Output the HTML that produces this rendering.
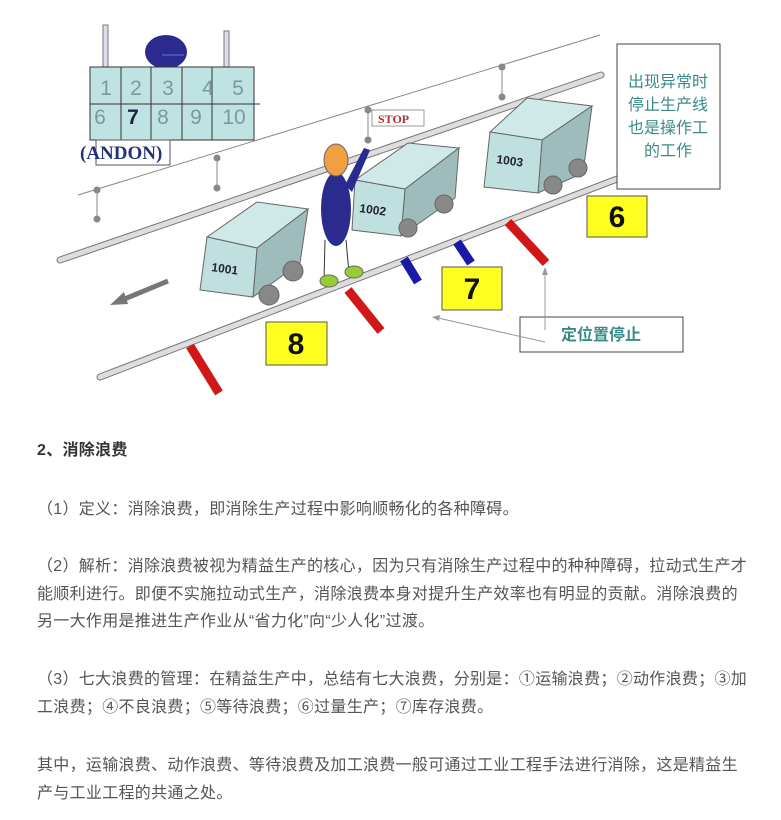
<!DOCTYPE html>
<html><head><meta charset="utf-8"><style>
html,body{margin:0;padding:0;background:#fff;width:781px;height:820px;overflow:hidden}
svg{position:absolute;left:0;top:0}
.t{position:absolute;left:37px;font-family:"Liberation Sans","Noto Sans CJK SC",sans-serif;font-size:16px;color:#555;letter-spacing:0.3px;white-space:nowrap;line-height:27.5px}
</style></head><body>
<svg width="781" height="410" viewBox="0 0 781 410" font-family="Liberation Sans, Noto Sans CJK SC, sans-serif">
<rect x="103" y="25" width="5" height="43" fill="#dde" stroke="#777"/>
<rect x="224" y="31" width="5" height="37" fill="#dde" stroke="#777"/>
<ellipse cx="166" cy="52" rx="21" ry="17" fill="#2a2a8f"/>
<line x1="162" y1="55" x2="184" y2="55" stroke="#6677cc"/>
<rect x="90" y="67" width="164" height="73" fill="#bfe3e3" stroke="#333"/>
<line x1="90" y1="104" x2="260" y2="104" stroke="#333"/>
<g stroke="#333"><line x1="121" y1="67" x2="121" y2="140"/><line x1="151" y1="67" x2="151" y2="140"/><line x1="182" y1="67" x2="182" y2="140"/><line x1="212" y1="67" x2="212" y2="140"/></g>
<g font-size="21" fill="#7a9a9a" text-anchor="middle">
<text x="106" y="95">1</text><text x="136" y="95">2</text><text x="168" y="95">3</text><text x="208" y="95">4</text><text x="238" y="95">5</text>
<text x="100" y="124">6</text><text x="133" y="124" fill="#224" font-weight="bold">7</text><text x="163" y="124">8</text><text x="196" y="124">9</text><text x="234" y="124">10</text></g>
<rect x="96" y="140" width="74" height="25" fill="none" stroke="#555"/>
<text x="80" y="159" font-family="Liberation Serif, serif" font-weight="bold" font-size="19" fill="#223377">(ANDON)</text>
<line x1="78" y1="195" x2="600" y2="35" stroke="#888" stroke-width="1"/>
<g stroke="#888" fill="#888">
<line x1="97" y1="190" x2="97" y2="219"/><circle cx="97" cy="190" r="3"/><circle cx="97" cy="219" r="3"/>
<line x1="217" y1="158" x2="217" y2="188"/><circle cx="217" cy="158" r="3"/><circle cx="217" cy="188" r="3"/>
<line x1="368" y1="110" x2="368" y2="140"/><circle cx="368" cy="110" r="3"/><circle cx="368" cy="140" r="3"/>
<line x1="502" y1="67" x2="502" y2="97"/><circle cx="502" cy="67" r="3"/><circle cx="502" cy="97" r="3"/></g>
<line x1="60" y1="260" x2="601" y2="75" stroke="#777" stroke-width="7" stroke-linecap="round"/>
<line x1="60" y1="260" x2="601" y2="75" stroke="#ddd" stroke-width="5" stroke-linecap="round"/>
<line x1="100" y1="377" x2="651" y2="166" stroke="#777" stroke-width="7" stroke-linecap="round"/>
<line x1="100" y1="377" x2="651" y2="166" stroke="#ddd" stroke-width="5" stroke-linecap="round"/>
<g stroke-width="9">
<line x1="190" y1="346" x2="219" y2="393" stroke="#d01818"/>
<line x1="348" y1="290" x2="381" y2="331" stroke="#d01818"/>
<line x1="404" y1="259" x2="418" y2="282" stroke="#1a1aa8"/>
<line x1="457" y1="242" x2="471" y2="263" stroke="#1a1aa8"/>
<line x1="508" y1="222" x2="546" y2="263" stroke="#d01818"/></g>
<g stroke="#666" stroke-width="1">
<polygon points="207,237 257,202 308,209 257,248" fill="#cfe8e8"/>
<polygon points="257,248 308,209 300,263 253,297" fill="#9fbcbc"/>
<polygon points="207,237 257,248 253,297 200,290" fill="#c0e0e0"/>
<circle cx="293" cy="271" r="10" fill="#888"/><circle cx="269" cy="295" r="10" fill="#888"/>
<polygon points="355,180 408,143 459,148 405,189" fill="#cfe8e8"/>
<polygon points="405,189 459,148 455,198 401,236" fill="#9fbcbc"/>
<polygon points="355,180 405,189 401,236 352,230" fill="#c0e0e0"/>
<circle cx="444" cy="204" r="9" fill="#888"/><circle cx="408" cy="228" r="9" fill="#888"/>
<polygon points="490,132 527,98 592,106 542,140" fill="#cfe8e8"/>
<polygon points="542,140 592,106 583,173 538,193" fill="#9fbcbc"/>
<polygon points="490,132 542,140 538,193 484,187" fill="#c0e0e0"/>
<circle cx="578" cy="168" r="9" fill="#888"/><circle cx="553" cy="185" r="9" fill="#888"/></g>
<g font-size="12" fill="#223" font-weight="bold">
<text x="211" y="271" transform="rotate(8 211 271)">1001</text>
<text x="359" y="212" transform="rotate(8 359 212)">1002</text>
<text x="496" y="163" transform="rotate(8 496 163)">1003</text></g>
<line x1="325" y1="240" x2="324" y2="280" stroke="#333"/><line x1="346" y1="240" x2="349" y2="273" stroke="#333"/>
<path d="M345 185 L364 148 L370 150 L352 192 Z" fill="#2a2a8f"/>
<ellipse cx="336" cy="209" rx="15" ry="37" fill="#2a2a8f"/>
<ellipse cx="336" cy="160" rx="12" ry="16" fill="#f0a040" stroke="#666"/>
<ellipse cx="329" cy="281" rx="9" ry="6" fill="#9c3" stroke="#666"/>
<ellipse cx="354" cy="272" rx="9" ry="6" fill="#9c3" stroke="#666"/>
<rect x="372" y="110" width="52" height="16" fill="#fff" stroke="#999"/>
<text x="378" y="123" font-family="Liberation Serif, serif" font-weight="bold" font-size="12" fill="#b03030">STOP</text>
<g fill="#ffff20" stroke="#555">
<rect x="266" y="322" width="61" height="43"/><rect x="442" y="267" width="60" height="43"/><rect x="587" y="196" width="60" height="41"/></g>
<g font-size="30" fill="#111" text-anchor="middle" font-weight="bold">
<text x="296" y="354">8</text><text x="472" y="299">7</text><text x="617" y="227">6</text></g>
<line x1="168" y1="281" x2="122" y2="300" stroke="#777" stroke-width="5"/>
<polygon points="110,305 124,292 128,304" fill="#777"/>
<rect x="617" y="44" width="103" height="145" fill="#fff" stroke="#444"/>
<g font-size="16" fill="#3a8a8a" text-anchor="middle">
<text x="668" y="87">出现异常时</text><text x="668" y="110">停止生产线</text><text x="668" y="133">也是操作工</text><text x="668" y="156">的工作</text></g>
<rect x="520" y="317" width="163" height="35" fill="#fff" stroke="#444"/>
<text x="601" y="340" font-size="16" fill="#3a8a8a" text-anchor="middle" font-weight="bold">定位置停止</text>
<line x1="545" y1="330" x2="545" y2="272" stroke="#999"/>
<polygon points="545,267 542,275 548,275" fill="#999"/>
<line x1="545" y1="342" x2="438" y2="318" stroke="#999"/>
<polygon points="432,317 440,315 439,321" fill="#999"/>
</svg>
<div class="t" style="top:437px;font-weight:bold;color:#333">2、消除浪费</div>
<div class="t" style="top:496px">（1）定义：消除浪费，即消除生产过程中影响顺畅化的各种障碍。</div>
<div class="t" style="top:553px">（2）解析：消除浪费被视为精益生产的核心，因为只有消除生产过程中的种种障碍，拉动式生产才<br>能顺利进行。即便不实施拉动式生产，消除浪费本身对提升生产效率也有明显的贡献。消除浪费的<br>另一大作用是推进生产作业从“省力化”向“少人化”过渡。</div>
<div class="t" style="top:666px">（3）七大浪费的管理：在精益生产中，总结有七大浪费，分别是：①运输浪费；②动作浪费；③加<br>工浪费；④不良浪费；⑤等待浪费；⑥过量生产；⑦库存浪费。</div>
<div class="t" style="top:752px">其中，运输浪费、动作浪费、等待浪费及加工浪费一般可通过工业工程手法进行消除，这是精益生<br>产与工业工程的共通之处。</div>
</body></html>
